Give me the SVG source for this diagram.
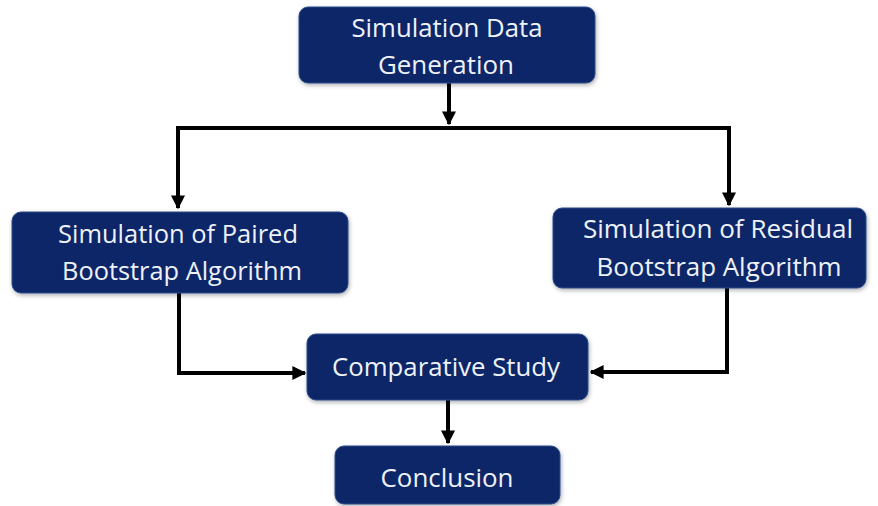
<svg xmlns="http://www.w3.org/2000/svg" width="878" height="506" viewBox="0 0 878 506">
<style>
.box{fill:#0d2868;stroke:#2a4a8a;stroke-width:1}
.t{font-family:"Open Sans","Liberation Sans",sans-serif;font-size:25px;fill:#eef2f8;text-anchor:middle}
.ln{fill:none;stroke:#000;stroke-width:4}
</style>
<defs>
<marker id="ah" viewBox="0 0 10 10" refX="9" refY="5" markerWidth="3.5" markerHeight="3.5" markerUnits="strokeWidth" orient="auto">
<path d="M0,0 L10,5 L0,10 Z" fill="#000"/>
</marker>
<filter id="sh" x="-10%" y="-10%" width="120%" height="130%">
<feDropShadow dx="1" dy="2" stdDeviation="2" flood-color="#000" flood-opacity="0.3"/>
</filter>
</defs>
<rect width="878" height="506" fill="#fff"/>
<g id="connectors">
<path class="ln" d="M449,83 V124" marker-end="url(#ah)"/>
<path class="ln" d="M178,128 H729"/>
<path class="ln" d="M178,126 V208" marker-end="url(#ah)"/>
<path class="ln" d="M729,126 V205" marker-end="url(#ah)"/>
<path class="ln" d="M179,293 V373 H305" marker-end="url(#ah)"/>
<path class="ln" d="M727,288 V372 H591" marker-end="url(#ah)"/>
<path class="ln" d="M448,400 V443" marker-end="url(#ah)"/>
</g>
<g id="n1">
<rect class="box" x="299" y="7" width="296" height="76" rx="9" filter="url(#sh)"/>
<text class="t" x="447" y="37" textLength="191" lengthAdjust="spacingAndGlyphs">Simulation Data</text>
<text class="t" x="446" y="74" textLength="136" lengthAdjust="spacingAndGlyphs">Generation</text>
</g>
<g id="n2">
<rect class="box" x="12" y="212" width="336" height="81" rx="9" filter="url(#sh)"/>
<text class="t" x="178" y="243" textLength="240" lengthAdjust="spacingAndGlyphs">Simulation of Paired</text>
<text class="t" x="182" y="280" textLength="240" lengthAdjust="spacingAndGlyphs">Bootstrap Algorithm</text>
</g>
<g id="n3">
<rect class="box" x="553" y="208" width="313" height="80" rx="9" filter="url(#sh)"/>
<text class="t" x="718" y="238" textLength="270" lengthAdjust="spacingAndGlyphs">Simulation of Residual</text>
<text class="t" x="719" y="276" textLength="245" lengthAdjust="spacingAndGlyphs">Bootstrap Algorithm</text>
</g>
<g id="n4">
<rect class="box" x="307" y="334" width="281" height="66" rx="9" filter="url(#sh)"/>
<text class="t" x="446" y="376" textLength="228" lengthAdjust="spacingAndGlyphs">Comparative Study</text>
</g>
<g id="n5">
<rect class="box" x="335" y="446" width="225" height="58" rx="9" filter="url(#sh)"/>
<text class="t" x="447" y="487" textLength="133" lengthAdjust="spacingAndGlyphs">Conclusion</text>
</g>
</svg>
